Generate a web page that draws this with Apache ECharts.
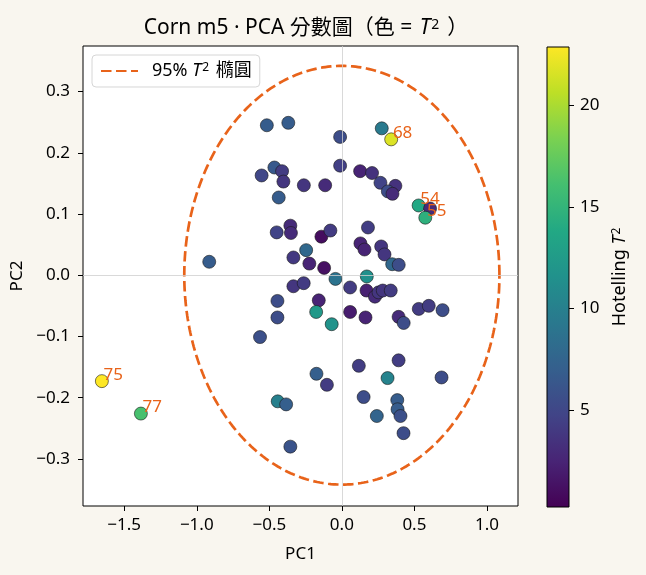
<!DOCTYPE html>
<html><head><meta charset="utf-8">
<script src="https://cdn.jsdelivr.net/npm/echarts@6/dist/echarts.min.js"></script>
<style>html,body{margin:0;padding:0;background:#f9f6ef}#c{width:646px;height:575px}</style>
</head><body><div id="c"></div>
<script>
// ---- data ----
const pc1 = [-0.517,-0.369,-0.012,0.275,0.340,-0.012,0.126,0.208,0.266,0.369,0.317,0.349,
  -0.553,-0.465,-0.412,-0.403,-0.262,-0.115,-0.435,0.529,0.608,0.575,-0.449,-0.355,-0.351,
  -0.141,-0.079,-0.246,-0.914,-0.334,-0.224,-0.122,-0.044,-0.334,-0.263,-0.444,-0.159,-0.177,
  -0.444,-0.070,-0.564,0.057,0.057,0.180,0.128,0.156,0.271,0.294,0.347,0.392,0.172,0.170,
  0.228,0.253,0.282,0.337,0.163,0.391,0.426,0.530,0.599,0.694,0.391,0.117,-0.175,-0.103,
  0.315,0.687,0.150,0.382,0.384,0.404,0.241,0.425,-0.442,-0.384,-0.355,-1.654,-1.385];
const pc2 = [0.245,0.249,0.226,0.240,0.222,0.179,0.170,0.167,0.151,0.146,0.137,0.133,
  0.163,0.176,0.170,0.153,0.147,0.147,0.127,0.114,0.109,0.094,0.070,0.081,0.069,
  0.063,0.073,0.041,0.022,0.029,0.019,0.012,-0.006,-0.018,-0.013,-0.042,-0.041,-0.060,
  -0.069,-0.080,-0.101,-0.020,-0.060,0.078,0.052,0.042,0.047,0.034,0.018,0.017,-0.002,-0.025,
  -0.035,-0.028,-0.025,-0.025,-0.069,-0.068,-0.078,-0.055,-0.050,-0.057,-0.139,-0.148,-0.161,-0.179,
  -0.168,-0.167,-0.199,-0.204,-0.219,-0.230,-0.230,-0.258,-0.206,-0.211,-0.280,-0.173,-0.226];
const t2 = [6.8,6.8,5.5,9.5,21.7,4.5,2.5,3.5,4.8,3.5,5.5,3.0,
  5.0,6.5,4.2,3.8,3.8,3.0,6.8,13.8,3.0,14.6,4.8,3.0,3.0,
  1.0,4.2,7.8,6.8,4.0,2.5,1.2,8.8,3.8,4.2,5.5,2.5,12.3,
  5.5,11.8,5.8,4.2,2.0,4.3,2.5,2.5,3.8,3.8,7.8,5.5,11.5,2.3,
  3.0,3.8,3.8,4.2,2.5,3.0,5.5,4.2,4.2,5.5,4.3,4.3,7.0,4.2,
  10.3,5.5,5.5,6.8,6.8,5.8,7.5,5.5,10.0,7.0,6.0,22.87,16.2];
const outlierIndex = [4, 19, 21, 77, 78];
const outlierLabel = ['68', '54', '55', '75', '77'];
const xTicks = [-1.5, -1.0, -0.5, 0.0, 0.5, 1.0];
const yTicks = [-0.3, -0.2, -0.1, 0.0, 0.1, 0.2, 0.3];
const cbTicks = [5, 10, 15, 20];
const ellipseSemiAxes = [1.086, 0.342];
const t2Range = [0.24, 22.87];
const viridis = ['#440154','#482475','#414487','#355f8d','#2a788e','#21918c','#22a884','#44bf70','#7ad151','#bddf26','#fde725'];

// ---- build ----
const FONT = '"Noto Sans", "Noto Sans CJK TC", sans-serif';
const ORANGE = '#e8631a';
const FS = 17;
const ellipse = [];
for (let k = 0; k <= 360; k++) {
  const a = k * Math.PI / 180;
  ellipse.push([ellipseSemiAxes[0] * Math.cos(a), ellipseSemiAxes[1] * Math.sin(a)]);
}
const scatterData = pc1.map((x, i) => {
  const j = outlierIndex.indexOf(i);
  const d = { value: [x, pc2[i], t2[i]] };
  if (j >= 0) d.label = { show: true, formatter: outlierLabel[j] };
  return d;
});
const gradStops = viridis.map((c, i) => ({ offset: i / (viridis.length - 1), color: c }));
const fmt1 = v => (v < 0 ? '\u2212' : '') + Math.abs(v).toFixed(1);
function richT(fs, padL, padR) {
  return {
    i: { fontStyle: 'italic', fontFamily: FONT, color: '#000', fontSize: fs, padding: [0, 0, 0, padL || 0] },
    s: { fontFamily: FONT, color: '#000', fontSize: Math.round(fs * 0.68), verticalAlign: 'top', padding: [0, padR || 0, 0, 1] }
  };
}

const chart = echarts.init(document.getElementById('c'));
chart.setOption({
  backgroundColor: '#f9f6ef',
  animation: false,
  title: {
    text: 'Corn m5 · PCA 分數圖（色 = {i|T}{s|2}）',
    left: 301, textAlign: 'center', top: 13,
    textStyle: { fontFamily: FONT, fontSize: 21, fontWeight: 'normal', color: '#000', rich: richT(21, 2, 8) }
  },
  legend: {
    left: 92, top: 55, orient: 'vertical',
    padding: [7, 8, 7, 8],
    itemWidth: 37, itemHeight: 17, itemGap: 5,
    backgroundColor: 'rgba(255,255,255,0.85)', borderColor: '#d6d6d6', borderWidth: 1, borderRadius: 4,
    data: [{ name: 'ellipse', itemStyle: { opacity: 0, color: 'rgba(0,0,0,0)', borderWidth: 0 } }],
    formatter: () => '95% {i|T}{s|2} 橢圓',
    textStyle: { fontFamily: FONT, fontSize: 18, color: '#000', padding: [0, 0, 0, 9], rich: richT(18, 0, 2) }
  },
  grid: [
    { left: 83, top: 46, width: 435, height: 460, show: true, backgroundColor: '#ffffff',
      borderColor: '#000', borderWidth: 1 },
    { left: 547, top: 47, width: 22, height: 460, show: true,
      backgroundColor: { type: 'linear', x: 0, y: 1, x2: 0, y2: 0, colorStops: gradStops },
      borderColor: '#000', borderWidth: 1 }
  ],
  xAxis: [
    { type: 'value', gridIndex: 0, min: -1.784, max: 1.214,
      name: 'PC1', nameLocation: 'middle', nameGap: 40,
      nameTextStyle: { fontFamily: FONT, fontSize: FS, color: '#000' },
      axisLine: { show: false, onZero: false },
      axisTick: { show: true, inside: false, length: 5, customValues: xTicks, lineStyle: { color: '#000' } },
      axisLabel: { customValues: xTicks, formatter: fmt1, fontFamily: FONT, fontSize: FS, color: '#000', margin: 11 },
      splitLine: { show: false } },
    { type: 'value', gridIndex: 1, min: 0, max: 1, show: false }
  ],
  yAxis: [
    { type: 'value', gridIndex: 0, min: -0.377, max: 0.3745,
      name: 'PC2', nameLocation: 'middle', nameGap: 49, nameRotate: 90,
      nameTextStyle: { fontFamily: FONT, fontSize: FS, color: '#000' },
      axisLine: { show: false, onZero: false },
      axisTick: { show: true, inside: false, length: 5, customValues: yTicks, lineStyle: { color: '#000' } },
      axisLabel: { customValues: yTicks, formatter: fmt1, fontFamily: FONT, fontSize: FS, color: '#000', margin: 13 },
      splitLine: { show: false } },
    { type: 'value', gridIndex: 1, min: t2Range[0], max: t2Range[1], position: 'right',
      name: 'Hotelling {i|T}{s|2}', nameLocation: 'middle', nameGap: 42, nameRotate: 90,
      nameTextStyle: { fontFamily: FONT, fontSize: 18, color: '#000', rich: richT(18, 0, 0) },
      axisLine: { show: false, onZero: false },
      axisTick: { show: true, inside: false, length: 5, customValues: cbTicks, lineStyle: { color: '#000' } },
      axisLabel: { customValues: cbTicks, fontFamily: FONT, fontSize: FS, color: '#000', margin: 11 },
      splitLine: { show: false } }
  ],
  visualMap: {
    show: false, type: 'continuous', seriesIndex: 1, dimension: 2,
    min: t2Range[0], max: t2Range[1], inRange: { color: viridis }
  },
  series: [
    { name: 'ellipse', type: 'line', xAxisIndex: 0, yAxisIndex: 0, data: ellipse,
      symbol: 'none', smooth: false, z: 1,
      lineStyle: { color: ORANGE, width: 2.7, type: [10.5, 4.5] },
      itemStyle: { color: ORANGE },
      markLine: { silent: true, symbol: 'none', label: { show: false },
        lineStyle: { color: '#cfcfcf', width: 0.8, type: 'solid' },
        data: [{ xAxis: 0 }, { yAxis: 0 }] } },
    { name: 'scores', type: 'scatter', xAxisIndex: 0, yAxisIndex: 0, data: scatterData,
      symbolSize: 13, z: 3,
      itemStyle: { borderColor: '#1a1a1a', borderWidth: 0.6, opacity: 1 },
      label: { show: false, position: [8.5, 0.5], verticalAlign: 'middle', align: 'left',
        color: ORANGE, fontFamily: FONT, fontSize: FS } }
  ]
});
</script></body></html>
